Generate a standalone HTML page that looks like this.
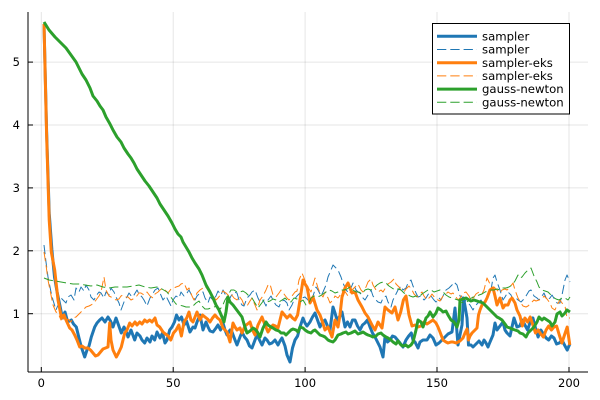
<!DOCTYPE html>
<html>
<head>
<meta charset="utf-8">
<style>
html,body{margin:0;padding:0;background:#fff;}
svg{display:block;}
text{font-family:"DejaVu Sans","Liberation Sans",sans-serif;fill:#000;}
</style>
</head>
<body>
<svg width="600" height="400" viewBox="0 0 600 400" xmlns="http://www.w3.org/2000/svg">
<rect x="0" y="0" width="600" height="400" fill="#fff"/>
<!-- grid -->
<g stroke="#000" stroke-opacity="0.1" stroke-width="1">
<line x1="41.3" y1="12" x2="41.3" y2="372"/>
<line x1="173.2" y1="12" x2="173.2" y2="372"/>
<line x1="305.1" y1="12" x2="305.1" y2="372"/>
<line x1="437" y1="12" x2="437" y2="372"/>
<line x1="569" y1="12" x2="569" y2="372"/>
<line x1="28" y1="62.1" x2="588" y2="62.1"/>
<line x1="28" y1="125" x2="588" y2="125"/>
<line x1="28" y1="187.9" x2="588" y2="187.9"/>
<line x1="28" y1="250.8" x2="588" y2="250.8"/>
<line x1="28" y1="313.7" x2="588" y2="313.7"/>
</g>
<!-- axes -->
<g stroke="#000" stroke-width="1">
<line x1="28" y1="12" x2="28" y2="372"/>
<line x1="28" y1="372" x2="588" y2="372"/>
<line x1="41.3" y1="372" x2="41.3" y2="367"/>
<line x1="173.2" y1="372" x2="173.2" y2="367"/>
<line x1="305.1" y1="372" x2="305.1" y2="367"/>
<line x1="437" y1="372" x2="437" y2="367"/>
<line x1="569" y1="372" x2="569" y2="367"/>
<line x1="28" y1="62.1" x2="33" y2="62.1"/>
<line x1="28" y1="125" x2="33" y2="125"/>
<line x1="28" y1="187.9" x2="33" y2="187.9"/>
<line x1="28" y1="250.8" x2="33" y2="250.8"/>
<line x1="28" y1="313.7" x2="33" y2="313.7"/>
</g>
<g font-size="11.5" text-anchor="middle">
<text x="41.3" y="387">0</text>
<text x="173.2" y="387">50</text>
<text x="305.1" y="387">100</text>
<text x="437" y="387">150</text>
<text x="569" y="387">200</text>
</g>
<g font-size="11.5" text-anchor="end">
<text x="20" y="66.2">5</text>
<text x="20" y="129.1">4</text>
<text x="20" y="192">3</text>
<text x="20" y="254.9">2</text>
<text x="20" y="317.8">1</text>
</g>
<!-- series -->
<g fill="none" stroke-linejoin="round" stroke-linecap="butt">
<polyline stroke="#1f77b4" stroke-width="3" points="44,24 46.6,131 49.2,213 51.9,250 54.5,277 57.1,292 59.8,305 62.4,318 65,312 67.7,322 71.3,320 73.5,324 76.3,327 79,338 81.3,347 84.7,357 87,350 89,346 91.3,337 94.7,327 97,323 99.7,320 102,318 105,322 108,317 110.5,321 113,327 116,318 118.5,325 121.3,333 124,327 126,331 128,337 131,330 134.7,340 137,333 140,336 142,340 144.7,343 147,338 150,342 152,336 154.7,340 157,332 160,338 162.5,333 165,343 167,340 169.7,330 172,327 174.5,322 176.5,315 179,320 181.5,317 184,325 186.5,321 190,332 193,327 195,328 197,322 200,315 203,330 206,322 208,327 210,331 213,332 216,328 218,325 220.5,330 223,323 225,330 227,335 230,330 232,332 235,340 237,345 240,337 242,332 244.5,337 247,340 249.5,346 252,348 255,340 257,335 260,341 262,345 265,338 267,340 269.5,344 272,343 275,340 278,345 280,341 282,338 285,346 287,355 290,362 292.5,348 295,340 297.6,336 300,327 303,318 305,323 307,326 310,322 312.5,317 315,313 317.5,320 320,327 322.5,322 325,320 327.5,326 330,330 333,307 335,313 337,320 340,316 342,312 345,327 347.5,322 350,327 352.5,320 355,320 357.5,326 360,330 362.5,325 365,323 367.5,320 370,327 372.5,333 375,337 377.5,342 380,347 383,357 385,337 387.5,342 390,340 392.5,336 395,337 397.5,340 400,343 403,347 406,340 408.7,336 411.3,333 413,340 415,342 418,348 420,342 423,340 427,340 430,335 433,338 436,345 439,343 442,340 445,337 448,334 452,332 455,308 458,345 460,335 462,325 463.5,298 465,306 467,318 468.5,345 471,345 473,347 476,344 479,341 482,345 484,340 486,343 488,347 490,342 493,335 495,323 497,330 500,326 503,322 505,330 507,333 510,336 512,327 514,318 517,327 519.7,326 522.3,320 524.9,325 527.6,330 530.2,322 532.9,318 535.5,328 538.1,337 540.8,330 543.4,334 546.1,338 548.7,340 551.4,336 554,338 556.6,344 559.3,343 561.9,340 564.5,345 567.2,350 569.8,344"/>
<polyline stroke="#1f77b4" stroke-width="1" stroke-dasharray="9.3 4" points="44,245 46,262 48,277 51,292 53,300 56,310 58,305 61,298 63,300 66,303 68,297 71,295 74,300 76,288 79,292 81,287 84,291 86,285 89,290 91,297 94,300 96,296 99,292 101,293 104,298 106,292 109,295 111,288 114,292 116,297 119,303 121,310 124,302 127,297 129,293 132,297 134,295 137,290 139,294 142,297 144,300 147,306 150,298 152,295 155,290 158,288 160,293 163,300 166,296 168,300 171,306 173,300 176,296 179,298 181,292 184,296 187,293 189,290 192,296 195,300 197,296 200,293 203,292 205,298 208,303 210,297 213,300 216,296 218,291 221,295 223,290 226,296 229,300 231,296 234,292 237,293 239,300 242,305 244,306 247,298 250,295 252,292 255,290 258,298 260,302 263,300 266,306 268,300 271,296 274,302 276,305 279,307 281,302 284,300 287,303 289,310 292,305 294,300 297,296 300,293 302,298 305,297 308,300 311,303 313,296 316,287 318,290 321,296 323,292 326,285 328,277 331,270 333,265 336,268 338,270 341,277 343,283 346,290 349,293 351,288 353,283 356,290 358,292 360,293 363,298 365,300 368,295 371,290 373,296 376,300 378,302 381,303 383,298 386,296 388,302 391,307 393,300 396,294 398,290 401,286 403,290 406,288 408,283 411,280 413,286 416,293 418,297 421,296 424,300 426,298 429,293 431,296 434,300 436,302 439,298 441,300 444,294 446,290 449,288 452,285 454,282 457,285 460,296 462,297 465,300 467,302 470,305 473,310 475,306 478,303 481,300 483,304 486,300 488,296 491,290 493,278 495,275 497,282 500,290 503,300 505,297 508,292 511,295 513,300 516,298 518,300 521,302 523,300 526,296 529,291 531,290 534,296 537,298 539,300 542,296 544,293 547,300 550,298 552,295 555,300 557,303 560,303 562,295 565,280 567,275 570,282"/>
<polyline stroke="#ff7f0e" stroke-width="3" points="44,24 46.6,135 49.2,220 51.3,252 54.7,270 58,300 61.3,317 64,315 66,320 69.7,328 72,330 74.7,335 77,340 79.7,347 82,346 84.7,348 88,348 90.5,350 93,353 95.5,356 98,355 100.5,352 103,349 105.5,348 108,347 109.7,323 111,340 113,350 116.3,357 118.5,353 121.3,347 124.7,333 127,330 129.7,323 132,326 135,322 137,325 139.7,322 142,324 144.7,320 147,322 149.7,320 152,322 155,318 157,325 159.7,327 163,332 165.5,334 168.2,336 170.8,340 173.5,333 176.1,330 178.8,325 181.4,336 184,322 186.7,318 189,312 191,320 193,322 197,312 200,320 202.5,315 205,317 207.5,319 210,322 212.5,318 215,315 217.5,318 220,320 223,328 227,332 230,342 233,323 235,327 237,330 240,328 242,333 245,326 247.5,324 250,322 252.5,330 255,335 258,325 262,317 265,325 268,332 270.5,328 273,325 275.5,326 278,328 280,320 282,312 284.5,315 287,318 290,315 292.5,318 295,320 297.6,315 300,300 303,280 305,284 307,287 310,303 313,297 317,310 320,315 322.5,322 325,330 328,327 332,337 335,320 338,327 340,315 342,297 345,288 348,283 352,293 355,292 358,300 362,307 365,313 368,317 372,325 375,330 378,322 382,328 385,307 388,310 392,313 395,307 398,320 400.7,312 403.4,300 406,296 409,315 412,326 415,325 418,327 421,326 424,322 427,324 430,322 433,320 436,323 438,327 440,332 443,340 446,342 448,343 451,342 453,342 456,343 458,342 460,341 463,338 465,333 467,329 468.5,340 470,336 472,333 475,330 477,328 478.5,315 480,310 482,305 485,302 487,298 490,290 493,288 495,296 497,305 500,298 503,308 505,305 508,305 510,300 512,298 515,303 517,310 520,316 522.3,326 524.9,318 527.6,322 530.2,317 532.9,325 535.5,333 538.1,330 540.8,334 543.4,337 546.1,330 548.7,326 551.4,330 554,327 556.6,326 559.3,335 561.9,343 564.5,335 567.2,327 569.8,345"/>
<polyline stroke="#ff7f0e" stroke-width="1" stroke-dasharray="9.3 4" points="44,252 46,265 48,280 51,295 53,305 56,312 58,313 61,320 63,318 66,322 68,319 71,322 73,318 76,317 79,314 81,312 84,309 86,307 89,306 91,305 94,303 96,300 99,296 101,292 104,277 106,290 109,296 111,297 113,298 116,300 119,299 121,296 123,295 126,297 128,297 131,300 133,299 136,297 139,293 141,293 144,295 147,292 150,296 153,298 155,294 158,292 160,290 163,288 166,291 168,293 171,289 174,288 176,287 179,286 181,284 184,283 187,290 189,288 192,296 194,300 197,293 200,290 203,288 205,286 208,290 210,293 213,296 216,300 218,298 221,294 223,291 226,293 229,296 231,294 234,298 237,300 239,296 242,300 244,305 247,306 250,301 252,298 255,305 257,310 260,300 263,296 266,290 268,285 270,284 273,295 276,297 279,293 281,290 284,294 287,298 289,300 292,296 295,292 297,291 299,280 302,273 304,278 306,283 309,289 311,292 313,285 315,278 318,288 320,293 323,297 325,292 328,298 330,303 333,300 335,296 338,298 341,294 343,290 346,293 348,296 351,291 353,289 356,286 358,284 361,290 363,292 366,287 368,282 371,279 373,285 376,290 378,292 381,290 383,292 386,287 388,284 391,282 394,279 396,284 399,287 401,290 404,292 406,289 409,286 412,290 414,294 417,297 419,295 422,292 424,296 427,300 430,297 432,294 435,298 438,300 440,301 443,296 445,295 448,292 451,294 453,293 456,297 458,300 461,297 463,293 466,292 469,296 471,300 474,297 476,294 479,292 482,294 484,290 487,278 489,282 492,288 494,287 497,290 500,293 502,290 505,289 507,290 510,287 513,283 515,290 518,298 521,303 523,306 526,307 528,306 531,303 534,300 536,301 539,300 542,299 544,296 547,299 550,303 552,308 555,310 557,305 560,300 562,303 565,306 567,318 570,318"/>
<polyline stroke="#2ca02c" stroke-width="3" points="44,22 49,30 55,37 60,42 66,48 71,55 76,62 79,68 82,74 86,80 90,88 93,96 97,101 100,106 103,110 106,117 110,124 113,130 117,137 121,142 124,148 128,154 131,158 134,163 137,169 141,175 145,181 149,186 153,192 157,198 160,204 164,210 168,216 172,223 175,229 178,234 181,237 183,242 186,247 189,252 192,258 195,263 199,269 202,275 206,285 210,292 213,298 216,305 219,310 222,317 224,322 226,312 228,297 230,302 233,305 236,309 239,313 242,317 244,324 247,333 250,331 253,328 256,330 258,333 260,337 263,328 266,322 268,325 271,327 273,328 276,330 279,331 281,333 284,333 286,335 288,333 291,330 293,329 296,330 298,332 300,327 303,328 305,330 308,332 311,333 313,331 315,330 318,333 320,335 323,336 325,337 328,340 330,341 333,342 335,340 338,335 341,334 343,333 346,332 348,334 351,333 353,332 355,331 358,334 361,333 363,332 366,334 368,335 371,336 373,337 376,336 378,334 381,333 383,335 386,337 388,338 391,340 393,342 396,344 398,341 401,345 403,346 406,345 408,347 411,345 413,342 416,330 418,320 421,322 423,327 426,318 428,316 430,312 433,317 436,313 438,308 441,310 443,312 446,311 448,315 451,320 454,322 457,327 459,320 460,300 463,299 466,298 469,300 471,301 474,300 477,301 480,302 483,303 485,305 488,308 491,311 494,314 497,317 499,318 502,320 505,324 507,327 510,328 512,329 515,330 518,331 520,333 523,334 526,337 528,333 531,330 534,327 537,322 539,317 542,320 544,318 547,320 550,322 552,326 555,322 557,314 560,312 562,316 565,313 567,310 570,312"/>
<polyline stroke="#2ca02c" stroke-width="1" stroke-dasharray="9.3 4" points="44,278 49,280 55,281 61,282 67,283 73,284 79,284 85,285 91,286 97,285 103,287 109,288 115,287 121,287 127,287 133,286 139,285 145,287 151,288 157,287 162,289 167,292 170,296 173,300 176,304 179,305 183,306 186,307 190,307 193,306 196,303 199,301 202,306 205,309 208,309 211,308 214,307 217,306 220,309 222,307 225,300 228,295 231,290 234,290 237,292 240,292 243,291 246,293 249,296 252,298 255,303 258,308 261,304 264,300 267,302 270,301 273,299 276,300 279,302 282,300 285,298 288,301 291,302 294,298 297,299 300,302 303,300 306,305 309,303 311,298 314,296 317,297 320,296 323,294 326,292 329,290 332,291 335,293 338,292 341,290 344,290 347,289 350,287 353,290 356,292 359,292 362,294 365,290 368,289 371,290 374,288 377,285 380,283 383,282 386,283 389,286 392,288 395,290 398,289 401,290 404,293 407,294 410,296 413,297 416,296 419,297 422,294 425,292 428,290 431,290 434,292 437,291 440,290 443,292 446,295 449,297 452,298 455,299 458,300 461,302 464,303 467,302 470,299 473,297 476,297 479,295 482,294 485,292 488,291 491,290 494,290 497,289 500,290 503,288 506,288 509,287 512,285 515,281 518,275 520,278 522,277 525,273 528,270 531,268 534,276 537,282 539,287 542,290 545,291 548,292 550,294 553,297 556,299 559,300 562,298 565,298 568,300 570,297"/>
</g>
<!-- legend -->
<rect x="432.5" y="23.5" width="137" height="90.5" fill="#fff" stroke="#000" stroke-width="1"/>
<g fill="none">
<line x1="437" y1="36.3" x2="477" y2="36.3" stroke="#1f77b4" stroke-width="3"/>
<line x1="437" y1="49.5" x2="477" y2="49.5" stroke="#1f77b4" stroke-width="1" stroke-dasharray="9.3 4"/>
<line x1="437" y1="62.7" x2="477" y2="62.7" stroke="#ff7f0e" stroke-width="3"/>
<line x1="437" y1="75.9" x2="477" y2="75.9" stroke="#ff7f0e" stroke-width="1" stroke-dasharray="9.3 4"/>
<line x1="437" y1="89.1" x2="477" y2="89.1" stroke="#2ca02c" stroke-width="3"/>
<line x1="437" y1="102.3" x2="477" y2="102.3" stroke="#2ca02c" stroke-width="1" stroke-dasharray="9.3 4"/>
</g>
<g font-size="11.7">
<text x="482" y="40.4">sampler</text>
<text x="482" y="53.6">sampler</text>
<text x="482" y="66.8">sampler-eks</text>
<text x="482" y="80">sampler-eks</text>
<text x="482" y="93.2">gauss-newton</text>
<text x="482" y="106.4">gauss-newton</text>
</g>
</svg>
</body>
</html>
